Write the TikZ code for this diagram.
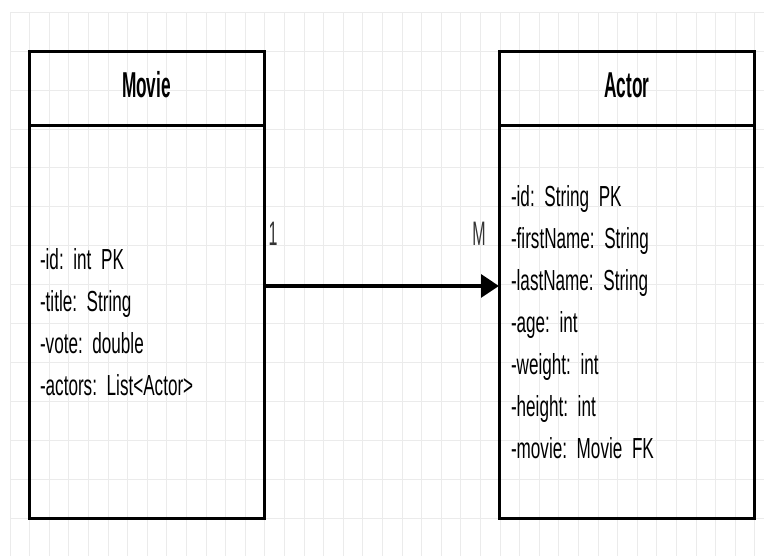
\documentclass[tikz,border=0pt]{standalone}
\usepackage{fontspec}
\usepackage{tikz}
\usetikzlibrary{arrows.meta,positioning}

\newfontfamily\bodyfont{Liberation Sans}[FakeStretch=0.59]
\newfontfamily\headfont{Liberation Sans}[FakeStretch=0.48]
\newfontfamily\multfont{Liberation Sans}[FakeStretch=0.47]
\protected\def\attrfont{\bodyfont\fontsize{29}{42}\selectfont\spaceskip=4.8pt\relax}
\definecolor{gridgray}{HTML}{EBEBEB}
\frenchspacing

\begin{document}
\begin{tikzpicture}[x=1pt, y=1pt,
  gridline/.style={gridgray, line width=1pt},
  classhead/.style={draw, line width=3pt, outer sep=0pt, inner sep=0pt,
    minimum height=74pt, text height=26pt, text depth=9pt,
    font=\headfont\bfseries\fontsize{36}{40}\selectfont},
  classbody/.style={draw, line width=3pt, outer sep=0pt, inner ysep=0pt,
    minimum height=392.5pt, align=left, text=black, font=\attrfont},
  mult/.style={inner sep=0pt, text=black!80,
    font=\multfont\fontsize{34}{40}\selectfont},
  assoc/.style={-{Triangle[length=18pt, width=22.7pt]}, line width=4pt}]

  \useasboundingbox (0,0) rectangle (764,556);

  % background grid
  \foreach \k in {0,...,38}
    \draw[gridline] ({10+19.6*\k},0) -- ({10+19.6*\k},543.7);
  \foreach \k in {0,...,13}
    \draw[gridline] (10,{543.7-38.92*\k}) -- (764,{543.7-38.92*\k});

  % class Movie
  \node[classhead, minimum width=235pt] (movieHead) at (146.5,467) {Movie};
  \node[classbody, inner xsep=11pt, text width=213pt, below=0pt of movieHead] (movieBody)
    {-id: int PK\\
     -title: String\\
     -vote: double\\
     -actors: List<Actor>};

  % class Actor
  \node[classhead, minimum width=255.5pt] (actorHead) at (626.75,467) {Actor};
  \node[classbody, inner xsep=12pt, text width=231.5pt, below=0pt of actorHead] (actorBody)
    {-id: String PK\\
     -firstName: String\\
     -lastName: String\\
     -age: int\\
     -weight: int\\
     -height: int\\
     -movie: Movie FK};

  % one-to-many association
  \draw[assoc] ([yshift=36.25pt]movieBody.east) -- ([yshift=36.25pt]actorBody.west);
  \node[mult] (oneLbl) at (273,322) {1};
  \node[mult] (manyLbl) at (479,322) {M};

\end{tikzpicture}
\end{document}
